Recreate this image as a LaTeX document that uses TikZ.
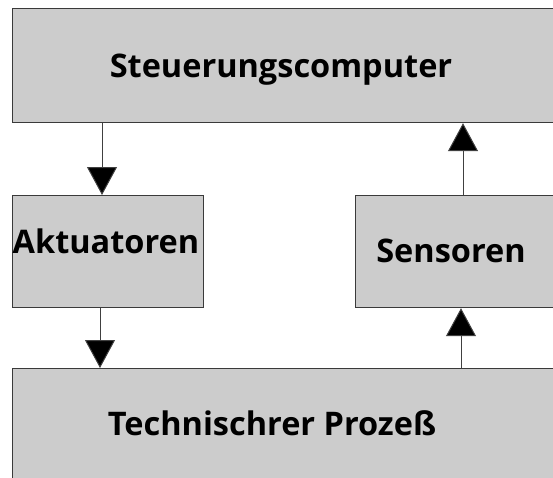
\documentclass[tikz,border=0pt]{standalone}
\usepackage{fontspec}
\setmainfont{Open Sans}
\usetikzlibrary{arrows.meta,calc}
\definecolor{boxfill}{HTML}{CCCCCC}
\definecolor{edge}{HTML}{3A3A3A}
\tikzset{
  box/.style={draw=edge,line width=1.2pt,fill=boxfill,anchor=north west,inner sep=0pt},
  lbl/.style={font=\fontsize{32.5}{38}\selectfont\bfseries,inner sep=0pt,anchor=base},
  ar/.style={-{Triangle[width=30pt,length=28pt,fill=black]},line width=1pt,draw=black!75},
}

\begin{document}
\begin{tikzpicture}[x=1pt,y=-1pt]
\useasboundingbox (0,0) rectangle (553,477);
% blocks of the loop
\node[box,minimum width=560pt,minimum height=114pt] (ctrl) at (12,8) {};
\node[box,minimum width=191pt,minimum height=112pt] (akt) at (12,195) {};
\node[box,minimum width=210pt,minimum height=112pt] (sens) at (355,195) {};
\node[box,minimum width=560pt,minimum height=120pt] (proc) at (12,368) {};
% labels
\node[lbl] (ctrl-t) at (281,77) {Steuerungscomputer};
\node[lbl] (akt-t) at (106,253) {Aktuatoren};
\node[lbl] (sens-t) at (451,262) {Sensoren};
\node[lbl] (proc-t) at (272,435) {Technischrer Prozeß};
% signal paths
\coordinate (down1) at (102,0);
\coordinate (down2) at (100,0);
\coordinate (up1) at (461,0);
\coordinate (up2) at (463,0);
\draw[ar] (ctrl.south -| down1) -- (akt.north -| down1);
\draw[ar] (akt.south -| down2) -- (proc.north -| down2);
\draw[ar] (proc.north -| up1) -- (sens.south -| up1);
\draw[ar] (sens.north -| up2) -- (ctrl.south -| up2);
\end{tikzpicture}
\end{document}
